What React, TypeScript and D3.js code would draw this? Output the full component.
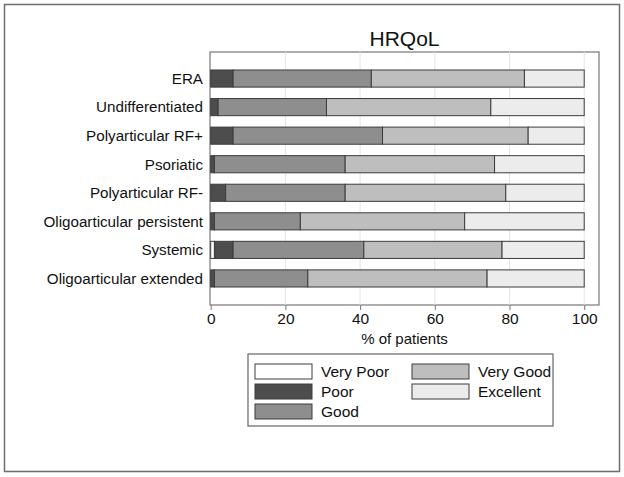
import * as d3 from "d3";
import { useEffect, useRef } from "react";

const categories = [
  "ERA",
  "Undifferentiated",
  "Polyarticular RF+",
  "Psoriatic",
  "Polyarticular RF-",
  "Oligoarticular persistent",
  "Systemic",
  "Oligoarticular extended",
];
const levels = ["Very Poor", "Poor", "Good", "Very Good", "Excellent"];
const veryPoor = [0, 0, 0, 0, 0, 0, 1, 0];
const poor = [6, 2, 6, 1, 4, 1, 5, 1];
const good = [37, 29, 40, 35, 32, 23, 35, 25];
const veryGood = [41, 44, 39, 40, 43, 44, 37, 48];
const excellent = [16, 25, 15, 24, 21, 32, 22, 26];
const xTicks = [0, 20, 40, 60, 80, 100];
const fills = ["#ffffff", "#4d4d4d", "#8e8e8e", "#bebebe", "#ececec"];

const App = () => {
  const ref = useRef<SVGSVGElement>(null);

  useEffect(() => {
    const svg = d3.select(ref.current);
    svg.selectAll("*").remove();

    const font = "'Liberation Sans', Arial, Helvetica, sans-serif";
    const rows = categories.map((c, i) => ({
      cat: c,
      "Very Poor": veryPoor[i],
      Poor: poor[i],
      Good: good[i],
      "Very Good": veryGood[i],
      Excellent: excellent[i],
    }));

    const box = { left: 210, right: 599, top: 52, bottom: 305 };

    // outer frame
    svg
      .append("rect")
      .attr("x", 4.5)
      .attr("y", 4.5)
      .attr("width", 615)
      .attr("height", 467)
      .attr("fill", "#fff")
      .attr("stroke", "#6e6e6e")
      .attr("stroke-width", 1.5);

    const x = d3.scaleLinear().domain([0, 100]).range([210.7, 584.2]);
    const y = d3
      .scaleBand()
      .domain(categories)
      .range([box.top, box.bottom])
      .paddingInner(0.4)
      .paddingOuter(0.63);

    // plot region
    svg
      .append("rect")
      .attr("x", box.left)
      .attr("y", box.top)
      .attr("width", box.right - box.left)
      .attr("height", box.bottom - box.top)
      .attr("fill", "#fff")
      .attr("stroke", "#777")
      .attr("stroke-width", 1.2);

    // gridlines
    svg
      .append("g")
      .selectAll("line")
      .data(xTicks.slice(1))
      .join("line")
      .attr("x1", (d) => x(d))
      .attr("x2", (d) => x(d))
      .attr("y1", box.top)
      .attr("y2", box.bottom)
      .attr("stroke", "#e4e4e4")
      .attr("stroke-width", 1);

    const stack = d3.stack<any>().keys(levels)(rows);
    const color = d3.scaleOrdinal<string>().domain(levels).range(fills);

    svg
      .append("g")
      .selectAll("g")
      .data(stack)
      .join("g")
      .attr("fill", (d) => color(d.key))
      .selectAll("rect")
      .data((d) => d.filter((s) => s[1] - s[0] > 0))
      .join("rect")
      .attr("x", (d) => x(d[0]))
      .attr("y", (d) => y(d.data.cat)!)
      .attr("width", (d) => x(d[1]) - x(d[0]))
      .attr("height", y.bandwidth())
      .attr("stroke", "#3c3c3c")
      .attr("stroke-width", 1);

    // x axis
    const xAxis = svg
      .append("g")
      .attr("transform", `translate(0,${box.bottom})`)
      .call(d3.axisBottom(x).tickValues(xTicks).tickSize(5).tickPadding(3));
    xAxis.select(".domain").remove();
    xAxis.selectAll("line").attr("stroke", "#777");
    xAxis
      .selectAll("text")
      .attr("font-family", font)
      .attr("font-size", 15.5)
      .attr("fill", "#111");

    // y labels
    svg
      .append("g")
      .selectAll("text")
      .data(categories)
      .join("text")
      .attr("x", 203)
      .attr("y", (d) => y(d)! + y.bandwidth() / 2)
      .attr("dy", "0.35em")
      .attr("text-anchor", "end")
      .attr("font-family", font)
      .attr("font-size", 15.2)
      .attr("fill", "#111")
      .text((d) => d);

    svg
      .append("text")
      .attr("x", (box.left + box.right) / 2)
      .attr("y", 46)
      .attr("text-anchor", "middle")
      .attr("font-family", font)
      .attr("font-size", 21)
      .attr("fill", "#111")
      .text("HRQoL");

    svg
      .append("text")
      .attr("x", (box.left + box.right) / 2)
      .attr("y", 344)
      .attr("text-anchor", "middle")
      .attr("font-family", font)
      .attr("font-size", 15)
      .attr("fill", "#111")
      .text("% of patients");

    // legend
    const lg = svg.append("g");
    lg.append("rect")
      .attr("x", 248)
      .attr("y", 354)
      .attr("width", 305)
      .attr("height", 72)
      .attr("fill", "#fff")
      .attr("stroke", "#666")
      .attr("stroke-width", 1.2);

    const items = lg
      .selectAll("g")
      .data(levels)
      .join("g")
      .attr("transform", (d, i) => {
        const col = i < 3 ? 0 : 1;
        const row = i < 3 ? i : i - 3;
        return `translate(${col ? 412 : 255},${364 + row * 20})`;
      });
    items
      .append("rect")
      .attr("width", 57)
      .attr("height", 15)
      .attr("fill", (d) => color(d))
      .attr("stroke", "#3c3c3c")
      .attr("stroke-width", 1);
    items
      .append("text")
      .attr("x", 66)
      .attr("y", 8)
      .attr("dy", "0.35em")
      .attr("font-family", font)
      .attr("font-size", 15.5)
      .attr("fill", "#111")
      .text((d) => d);
  }, []);

  return (
    <svg
      ref={ref}
      width={624}
      height={477}
      style={{ position: "absolute", left: 0, top: 0 }}
    />
  );
};

export default App;
